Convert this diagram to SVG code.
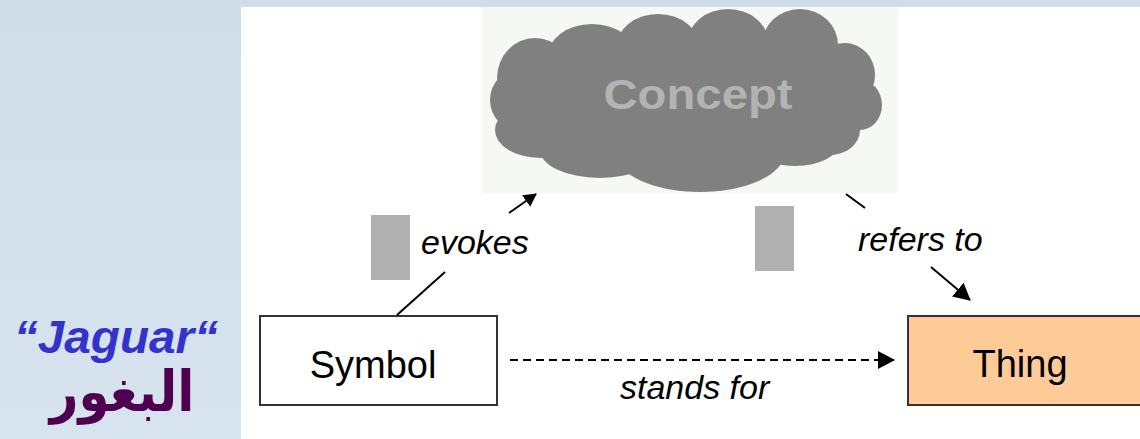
<svg xmlns="http://www.w3.org/2000/svg" width="1140" height="439" viewBox="0 0 1140 439">
  <defs>
    <linearGradient id="bg" x1="0" y1="0" x2="0" y2="1">
      <stop offset="0" stop-color="#d0dde8"/>
      <stop offset="1" stop-color="#d7e3ee"/>
    </linearGradient>
    <marker id="ah" markerUnits="userSpaceOnUse" markerWidth="20" markerHeight="20" refX="16" refY="9" orient="auto">
      <path d="M0,0 L17,9 L0,18 Z" fill="#000"/>
    </marker>
    <marker id="ahs" markerUnits="userSpaceOnUse" markerWidth="16" markerHeight="16" refX="12" refY="7" orient="auto">
      <path d="M0,0 L13,7 L0,14 Z" fill="#000"/>
    </marker>
    <style>
      .box { stroke: #333; stroke-width: 2; }
      .lbl { font-family: "Liberation Sans", Arial, sans-serif; font-size: 38px; fill: #000; }
      .it { font-family: "Liberation Sans", Arial, sans-serif; font-size: 34px; font-style: italic; fill: #000; }
      .ln { stroke: #000; stroke-width: 2; fill: none; }
      .ph { fill: #b0b0b0; }
    </style>
  </defs>
  <rect x="0" y="0" width="1140" height="439" fill="url(#bg)"/>
  <rect x="241" y="7" width="899" height="432" fill="#ffffff"/>

  <g id="concept">
    <rect x="482" y="7" width="416" height="186" fill="#f5f8f5"/>
    <g fill="#808080">
      <ellipse cx="690" cy="100" rx="175" ry="68"/>
      <ellipse cx="535" cy="78" rx="38" ry="40"/>
      <ellipse cx="518" cy="100" rx="28" ry="30"/>
      <ellipse cx="592" cy="58" rx="45" ry="34"/>
      <ellipse cx="658" cy="48" rx="42" ry="34"/>
      <ellipse cx="728" cy="42" rx="40" ry="33"/>
      <ellipse cx="800" cy="45" rx="38" ry="36"/>
      <ellipse cx="845" cy="75" rx="30" ry="32"/>
      <ellipse cx="860" cy="105" rx="22" ry="25"/>
      <ellipse cx="830" cy="130" rx="30" ry="25"/>
      <ellipse cx="795" cy="142" rx="45" ry="24"/>
      <ellipse cx="700" cy="152" rx="85" ry="40"/>
      <ellipse cx="600" cy="150" rx="60" ry="28"/>
      <ellipse cx="540" cy="130" rx="45" ry="28"/>
    </g>
    <text x="698" y="109" text-anchor="middle" font-family="Liberation Sans, Arial, sans-serif" font-weight="bold" font-size="42" fill="#b3b3b3" textLength="189" lengthAdjust="spacingAndGlyphs">Concept</text>
  </g>

  <g id="symbol">
    <rect class="box" x="260" y="316" width="237" height="89" fill="#ffffff"/>
    <text class="lbl" x="373" y="378" text-anchor="middle">Symbol</text>
  </g>

  <g id="thing">
    <rect class="box" x="908" y="316" width="240" height="89" fill="#fecb98"/>
    <text class="lbl" x="1020" y="377" text-anchor="middle">Thing</text>
  </g>

  <g id="connectors">
    <line class="ln" x1="397" y1="315" x2="445" y2="272"/>
    <line class="ln" x1="509" y1="213" x2="536" y2="194" marker-end="url(#ahs)"/>
    <line class="ln" x1="846" y1="194" x2="865" y2="208"/>
    <line class="ln" x1="931" y1="267" x2="970" y2="300" marker-end="url(#ah)"/>
    <line class="ln" x1="510" y1="360" x2="894" y2="360" stroke-dasharray="8 5" stroke-width="1.6" marker-end="url(#ah)"/>
  </g>

  <g id="labels">
    <rect class="ph" x="371" y="215" width="39" height="65"/>
    <text class="it" x="421" y="254">evokes</text>
    <rect class="ph" x="755" y="206" width="39" height="65"/>
    <text class="it" x="858" y="251">refers to</text>
    <text class="it" x="620" y="399">stands for</text>
  </g>

  <g id="jaguar">
    <text x="14" y="353" font-family="Liberation Sans, Arial, sans-serif" font-weight="bold" font-style="italic" font-size="46" fill="#3333cc" textLength="204" lengthAdjust="spacingAndGlyphs">“Jaguar“</text>
    <text transform="translate(122,411) scale(1,1.12)" x="0" y="0" text-anchor="middle" font-family="DejaVu Sans, Noto Sans, sans-serif" font-weight="bold" font-size="50" fill="#500050" direction="rtl">البغور</text>
  </g>
</svg>
